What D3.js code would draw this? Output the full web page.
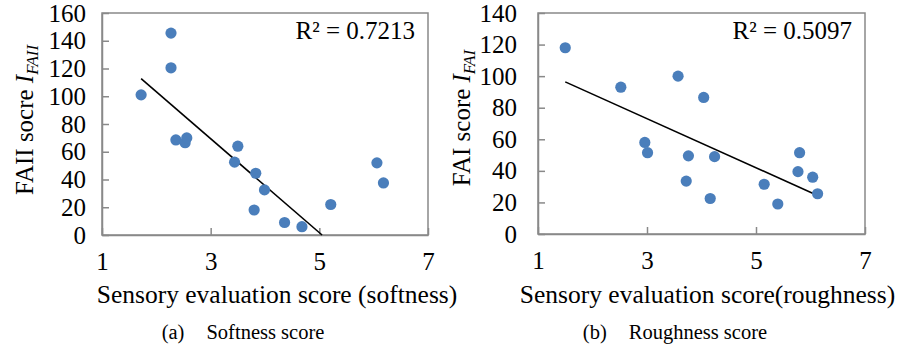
<!DOCTYPE html>
<html>
<head>
<meta charset="utf-8">
<script src="https://cdn.jsdelivr.net/npm/d3@7"></script>
<style>
  html, body { margin: 0; padding: 0; background: #fff; }
  svg { display: block; font-family: "Liberation Serif", "Times New Roman", serif; }
</style>
</head>
<body>
<div id="chart"></div>
<script>
// data
const softnessX = [1.72, 2.27, 2.27, 2.36, 2.53, 2.56, 3.50, 3.44, 3.83, 3.99, 3.80, 4.36, 4.68, 5.21, 6.06, 6.18];
const softnessY = [101, 145.5, 120.5, 68.5, 66.5, 70, 64, 52.5, 44.5, 32.5, 18, 9, 6, 22, 52, 37.5];
const roughnessX = [1.50, 2.52, 3.57, 4.04, 2.96, 3.01, 3.76, 4.24, 3.72, 4.16, 5.15, 5.40, 5.80, 5.77, 6.04, 6.13];
const roughnessY = [118, 93, 100, 86.5, 58, 51.5, 49.5, 49, 33.5, 22.5, 31.5, 19, 51.5, 39.5, 36, 25.5];
// trendline [intercept, slope]
const softnessTrend = [170.9, -33.84];
const roughnessTrend = [119.7, -15.55];
const xTicks = [1, 3, 5, 7];
const yTicksA = [0, 20, 40, 60, 80, 100, 120, 140, 160];
const yTicksB = [0, 20, 40, 60, 80, 100, 120, 140];
const r2Labels = ["R² = 0.7213", "R² = 0.5097"];
const captions = [["(a)", "Softness score"], ["(b)", "Roughness score"]];
const xTitles = ["Sensory evaluation score (softness)", "Sensory evaluation score(roughness)"];
const yTitles = [["FAII socre ", "I", "FAII"], ["FAI score ", "I", "FAI"]];

const W = 914, H = 354;
const serif = '"Liberation Serif", "Times New Roman", serif';
const svg = d3.select("#chart").append("svg")
  .attr("width", W).attr("height", H)
  .attr("viewBox", [0, 0, W, H]);

const panels = [
  { xs: softnessX, ys: softnessY, trend: softnessTrend, yTicks: yTicksA, yMax: 160, pad: 16,
    box: { l: 102, r: 428, t: 13, b: 235 }, yTitleX: 33, yTitleY: 120, xTitleDx: 12, capX: 243 },
  { xs: roughnessX, ys: roughnessY, trend: roughnessTrend, yTicks: yTicksB, yMax: 140, pad: 21,
    box: { l: 538, r: 865, t: 13, b: 234 }, yTitleX: 470, yTitleY: 118, xTitleDx: 6, capX: 675 },
];

const axisColor = "#898989";

panels.forEach((p, i) => {
  const g = svg.append("g");
  const x = d3.scaleLinear().domain([1, 7]).range([p.box.l, p.box.r]);
  const y = d3.scaleLinear().domain([0, p.yMax]).range([p.box.b, p.box.t]);

  // frame
  g.append("rect")
    .attr("x", p.box.l).attr("y", p.box.t)
    .attr("width", p.box.r - p.box.l).attr("height", p.box.b - p.box.t)
    .attr("fill", "none").attr("stroke", axisColor).attr("stroke-width", 1.5);

  // axes, ticks drawn inside the frame
  const ax = g.append("g")
    .attr("transform", `translate(0,${p.box.b})`)
    .call(d3.axisBottom(x).tickValues(xTicks).tickFormat(d3.format("d"))
      .tickSizeInner(-7).tickSizeOuter(0).tickPadding(17));
  const ay = g.append("g")
    .attr("transform", `translate(${p.box.l},0)`)
    .call(d3.axisLeft(y).tickValues(p.yTicks).tickFormat(d3.format("d"))
      .tickSizeInner(-7).tickSizeOuter(0).tickPadding(p.pad));
  [ax, ay].forEach(a => {
    a.attr("font-family", null).attr("font-size", null);
    a.select(".domain").attr("stroke", axisColor).attr("stroke-width", 1.5);
    a.selectAll(".tick line").attr("stroke", axisColor).attr("stroke-width", 1.5);
    a.selectAll(".tick text")
      .attr("fill", "#000")
      .style("font-family", serif)
      .style("font-size", "25px");
  });
  ax.selectAll(".tick text").attr("dy", "0.71em");

  // trendline over the data's x range, stopped at y = 0
  const x0 = d3.min(p.xs);
  let x1 = d3.max(p.xs);
  const f = v => p.trend[0] + p.trend[1] * v;
  if (f(x1) < 0) x1 = -p.trend[0] / p.trend[1];
  g.append("line")
    .attr("x1", x(x0)).attr("y1", y(f(x0)))
    .attr("x2", x(x1)).attr("y2", y(f(x1)))
    .attr("stroke", "#000").attr("stroke-width", 1.6);

  // points
  g.selectAll("circle")
    .data(p.xs.map((v, k) => [v, p.ys[k]]))
    .join("circle")
    .attr("cx", d => x(d[0]))
    .attr("cy", d => y(d[1]))
    .attr("r", 5.6)
    .attr("fill", "#4a7ebb");

  // R squared
  g.append("text")
    .attr("x", p.box.r - 13).attr("y", p.box.t + 26)
    .attr("text-anchor", "end")
    .style("font-size", "25px")
    .text(r2Labels[i]);

  // x title
  g.append("text")
    .attr("x", (p.box.l + p.box.r) / 2 + p.xTitleDx).attr("y", 303)
    .attr("text-anchor", "middle")
    .style("font-size", "25.5px")
    .text(xTitles[i]);

  // y title
  const yt = g.append("text")
    .attr("transform", `translate(${p.yTitleX},${p.yTitleY}) rotate(-90)`)
    .attr("text-anchor", "middle")
    .style("font-size", "25px");
  yt.append("tspan").text(yTitles[i][0]);
  yt.append("tspan").attr("font-style", "italic").text(yTitles[i][1]);
  yt.append("tspan").attr("font-style", "italic").style("font-size", "17px").attr("dy", 5).text(yTitles[i][2]);

  // caption
  const cap = g.append("text")
    .attr("x", p.capX).attr("y", 339)
    .attr("text-anchor", "middle")
    .style("font-size", "20.5px");
  cap.append("tspan").text(captions[i][0]);
  cap.append("tspan").attr("dx", 22).text(captions[i][1]);
});
</script>
</body>
</html>
